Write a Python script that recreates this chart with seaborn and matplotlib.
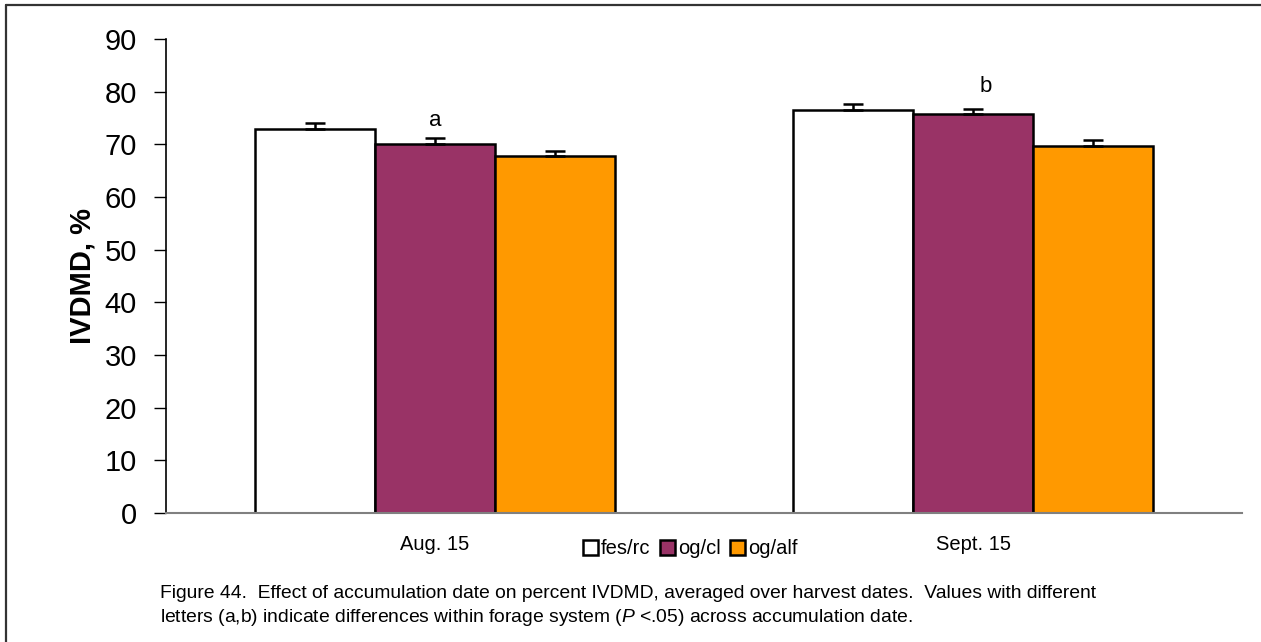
import matplotlib
matplotlib.use("Agg")
import matplotlib.pyplot as plt
import seaborn as sns
import pandas as pd
from matplotlib.lines import Line2D
from matplotlib.patches import Patch

categories = ["Aug. 15", "Sept. 15"]
systems = ["fes/rc", "og/cl", "og/alf"]
fes_rc = [73.0, 76.5]
og_cl = [70.0, 75.7]
og_alf = [67.7, 69.7]
err_fes_rc = [1.1, 1.1]
err_og_cl = [1.2, 1.1]
err_og_alf = [1.1, 1.1]
letters = ["a", "b"]
y_ticks = [0, 10, 20, 30, 40, 50, 60, 70, 80, 90]

sns.set_theme(style="white")
plt.rcParams["font.family"] = ["Liberation Sans", "DejaVu Sans"]
plt.rcParams["mathtext.fontset"] = "custom"
plt.rcParams["mathtext.rm"] = "Liberation Sans"
plt.rcParams["mathtext.it"] = "Liberation Sans:italic"
plt.rcParams["text.color"] = "black"
plt.rcParams["axes.labelcolor"] = "black"
plt.rcParams["xtick.color"] = "black"
plt.rcParams["ytick.color"] = "black"

values = {"fes/rc": fes_rc, "og/cl": og_cl, "og/alf": og_alf}
errors = {"fes/rc": err_fes_rc, "og/cl": err_og_cl, "og/alf": err_og_alf}
rows = []
for s in systems:
    for c, v, e in zip(categories, values[s], errors[s]):
        rows.append({"date": c, "system": s, "value": v, "err": e})
df = pd.DataFrame(rows)

colors = ["#FFFFFF", "#993366", "#FF9900"]

fig = plt.figure(figsize=(12.61, 6.42), dpi=100)
ax = fig.add_axes([166 / 1261, 1 - 513 / 642, (1242 - 166) / 1261, (513 - 39) / 642])

sns.barplot(data=df, x="date", y="value", hue="system", hue_order=systems,
            order=categories, palette=colors, width=0.668, errorbar=None,
            edgecolor="black", linewidth=1.8, saturation=1, ax=ax, legend=False)

# error bars (positive only) at bar centres
for container, s in zip(ax.containers, systems):
    for patch, e in zip(container.patches, errors[s]):
        xc = patch.get_x() + patch.get_width() / 2
        h = patch.get_height()
        ax.errorbar([xc], [h], yerr=[[0], [e]], fmt="none", ecolor="black",
                    elinewidth=1.8, capsize=7.5, capthick=1.8, zorder=5)

# significance letters
ax.text(0.0, 74.6, letters[0], ha="center", va="center", fontsize=16, color="black")
ax.text(1.024, 80.9, letters[1], ha="center", va="center", fontsize=16, color="black")

ax.set_xlim(-0.5, 1.5)
ax.set_ylim(0, 90)
ax.set_yticks(y_ticks)
ax.set_yticklabels([str(t) for t in y_ticks], fontsize=21)
ax.set_ylabel("IVDMD, %", fontsize=21, fontweight="bold", labelpad=6)
ax.set_xlabel("")
ax.set_xticks([0, 1])
ax.set_xticklabels(categories, fontsize=14.5)
ax.set_xticks([-0.5, 0.5, 1.5], minor=True)
ax.tick_params(axis="x", which="major", length=0, pad=16)
ax.tick_params(axis="x", which="minor", length=6, width=1, color="#404040", direction="out")
ax.tick_params(axis="y", which="major", length=9, width=1, color="black", direction="out", pad=12, left=True)

for side in ["top", "right"]:
    ax.spines[side].set_visible(False)
ax.spines["left"].set_color("black")
ax.spines["left"].set_linewidth(1.2)
ax.spines["bottom"].set_color("#808080")
ax.spines["bottom"].set_linewidth(1.5)

handles = [Patch(facecolor=c, edgecolor="black", linewidth=1.8, label=s) for c, s in zip(colors, systems)]
fig.legend(handles=handles, loc="center", bbox_to_anchor=(690 / 1261, 1 - 549 / 642),
           ncol=3, frameon=False, fontsize=14.5, handlelength=0.75, handleheight=0.75,
           handletextpad=0.15, columnspacing=0.45, borderpad=0)

fig.text(160 / 1261, 1 - 594 / 642,
         "Figure 44.  Effect of accumulation date on percent IVDMD, averaged over harvest dates.  Values with different",
         fontsize=13.9, ha="left", va="center")
fig.text(160 / 1261, 1 - 618 / 642,
         "letters (a,b) indicate differences within forage system ($\\mathit{P}$ <.05) across accumulation date.",
         fontsize=13.9, ha="left", va="center")

# outer frame (top and left edges visible)
fig.add_artist(Line2D([6 / 1261, 6 / 1261], [0, 1 - 5 / 642], transform=fig.transFigure, color="#333333", lw=1.6))
fig.add_artist(Line2D([6 / 1261, 1], [1 - 5 / 642, 1 - 5 / 642], transform=fig.transFigure, color="#333333", lw=1.6))

fig.savefig("out.png", dpi=100)
